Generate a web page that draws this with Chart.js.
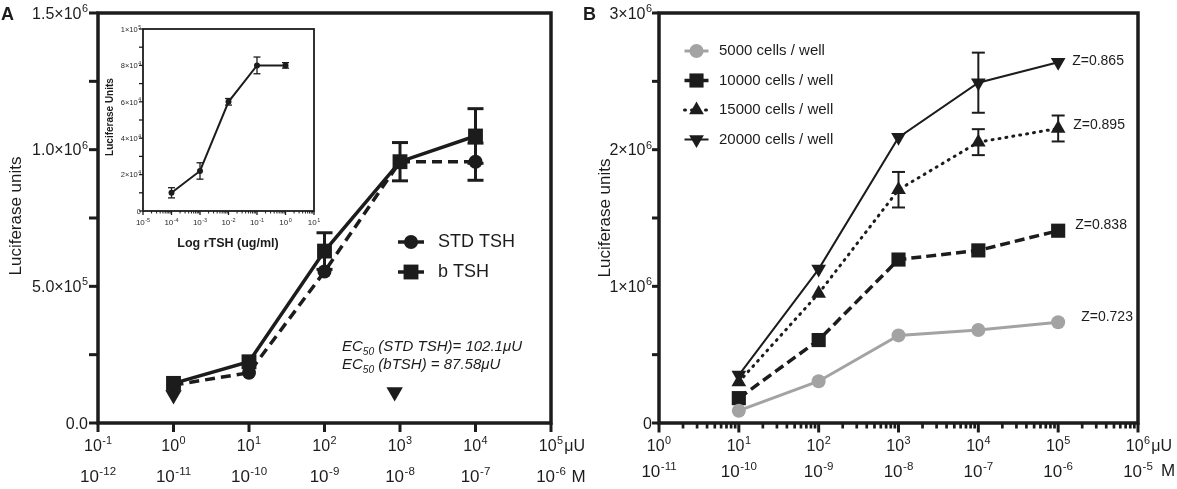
<!DOCTYPE html>
<html>
<head>
<meta charset="utf-8">
<script src="https://cdn.jsdelivr.net/npm/chart.js@4.4.1/dist/chart.umd.min.js"></script>
<style>
  html, body { margin: 0; padding: 0; background: #fff; }
  #wrap { position: relative; width: 1177px; height: 489px; overflow: hidden; }
  canvas { position: absolute; }
</style>
</head>
<body>
<div id="wrap">
  <canvas id="chartA" width="590" height="489" style="left:0;top:0;width:590px;height:489px"></canvas>
  <canvas id="chartB" width="597" height="489" style="left:580px;top:0;width:597px;height:489px"></canvas>
  <canvas id="inset" width="230" height="245" style="left:95px;top:20px;width:230px;height:245px"></canvas>
</div>
<script>
// --- panel A : STD TSH vs b TSH ---
const doseA = [1, 10, 100, 1000, 10000];              // µU
const stdTsh = [139000, 184000, 554000, 956000, 956000];
const stdTshErr = [0, 0, 0, 0, 68000];
const bTsh = [145000, 224000, 629000, 956000, 1050000];
const bTshErr = [0, 0, 67000, 70000, 100000];
const ec50Dose = [1, 850];
const ec50Mark = [102000, 113000];
const ec50Notes = [['EC', '50', ' (STD TSH)= 102.1μU'], ['EC', '50', ' (bTSH) = 87.58μU']];
const xTicksA = ['10^-1', '10^0', '10^1', '10^2', '10^3', '10^4', '10^5'];
const molarA = ['10^-12', '10^-11', '10^-10', '10^-9', '10^-8', '10^-7', '10^-6'];
const yValsA = [0, 500000, 1000000, 1500000];
const yTicksA = ['0.0', '5.0×10^5', '1.0×10^6', '1.5×10^6'];

// --- inset : rTSH ---
const rtshDose = [0.0001, 0.001, 0.01, 0.1, 1];      // ug/ml
const rtshLuc = [10000, 22000, 60000, 80000, 80000];
const rtshErr = [2800, 4500, 1800, 4600, 1500];
const xTicksIn = ['10^-5', '10^-4', '10^-3', '10^-2', '10^-1', '10^0', '10^1'];
const yValsIn = [0, 20000, 40000, 60000, 80000, 100000];
const yTicksIn = ['0', '2×10^4', '4×10^4', '6×10^4', '8×10^4', '1×10^5'];

// --- panel B : cells per well ---
const doseB = [10, 100, 1000, 10000, 100000];
const cellLabels = ['5000 cells / well', '10000 cells / well', '15000 cells / well', '20000 cells / well'];
const cells5000 = [90000, 306000, 641000, 681000, 737000];
const cells10000 = [182000, 607000, 1196000, 1263000, 1407000];
const cells15000 = [300000, 948000, 1707000, 2055000, 2155000];
const err15000 = [0, 0, 130000, 95000, 95000];
const cells20000 = [351000, 1126000, 2090000, 2490000, 2640000];
const err20000 = [0, 0, 0, 220000, 0];
const zFactors = ['Z=0.723', 'Z=0.838', 'Z=0.895', 'Z=0.865'];
const xTicksB = ['10^0', '10^1', '10^2', '10^3', '10^4', '10^5', '10^6'];
const molarB = ['10^-11', '10^-10', '10^-9', '10^-8', '10^-7', '10^-6', '10^-5'];
const yValsB = [0, 1000000, 2000000, 3000000];
const yTicksB = ['0', '1×10^6', '2×10^6', '3×10^6'];

const FONT = '"Liberation Sans", Arial, sans-serif';
const INK = '#1c1c1c';
const GREY = '#a3a3a3';

function pts(xs, ys) { return xs.map((x, i) => ({ x: x, y: ys[i] })); }
function expOf(s) { return Number(s.split('^')[1]); }

function series(label, xs, ys, errs, style) {
  return Object.assign({ label: label, data: pts(xs, ys), errors: errs, showLine: true, clip: false,
    pointBorderWidth: 0, pointHoverRadius: 0, tension: 0 }, style);
}

function baseOptions(xMin, xMax, yMax, padding) {
  return {
    responsive: false, animation: false, devicePixelRatio: 1, events: [],
    layout: { padding: padding },
    plugins: { legend: { display: false }, tooltip: { enabled: false } },
    scales: {
      x: { type: 'logarithmic', min: xMin, max: xMax, display: false },
      y: { type: 'linear', min: 0, max: yMax, display: false }
    }
  };
}

// text with a superscript part written as "base^exp"
function drawPow(ctx, label, x, y, size, align, opt) {
  opt = opt || {};
  const p = label.split('^'), base = p[0], exp = p[1] || '';
  const w8 = opt.weight || 'normal';
  const esz = size * 0.68;
  ctx.font = w8 + ' ' + size + 'px ' + FONT;
  const wb = ctx.measureText(base).width;
  ctx.font = w8 + ' ' + esz + 'px ' + FONT;
  const we = exp ? ctx.measureText(exp).width + 0.5 : 0;
  const w = wb + we;
  const x0 = align === 'center' ? x - w / 2 : align === 'right' ? x - w : x;
  const by = y + size * 0.36;
  ctx.textAlign = 'left';
  ctx.textBaseline = 'alphabetic';
  ctx.font = w8 + ' ' + size + 'px ' + FONT;
  ctx.fillText(base, x0, by);
  if (exp) {
    ctx.font = w8 + ' ' + esz + 'px ' + FONT;
    ctx.fillText(exp, x0 + wb + 0.5, by - size * 0.42);
  }
  if (opt.suffix) {
    ctx.font = w8 + ' ' + size + 'px ' + FONT;
    ctx.fillText(opt.suffix, x0 + w + 1, by);
  }
}

function vText(ctx, text, x, y, font) {
  ctx.save();
  ctx.translate(x, y);
  ctx.rotate(-Math.PI / 2);
  ctx.font = font;
  ctx.textAlign = 'center';
  ctx.textBaseline = 'middle';
  ctx.fillText(text, 0, 0);
  ctx.restore();
}

function seg(ctx, x1, y1, x2, y2) {
  ctx.beginPath(); ctx.moveTo(x1, y1); ctx.lineTo(x2, y2); ctx.stroke();
}

// frame, tick marks and tick labels
function drawAxes(chart, a) {
  const ctx = chart.ctx, area = chart.chartArea, xs = chart.scales.x, ys = chart.scales.y;
  ctx.save();
  ctx.strokeStyle = INK;
  ctx.fillStyle = a.textColor || INK;
  ctx.lineCap = 'butt';
  ctx.lineWidth = a.frameW;
  ctx.strokeRect(area.left, area.top, area.right - area.left, area.bottom - area.top);

  ctx.lineWidth = a.tickW;
  const lastExp = expOf(a.xLabels[a.xLabels.length - 1]);
  a.xLabels.forEach(lbl => {
    const e = expOf(lbl);
    const px = xs.getPixelForValue(Math.pow(10, e));
    seg(ctx, px, area.bottom, px, area.bottom + a.xLen);
    if (a.xMinorLen && e < lastExp) {
      ctx.lineWidth = a.minorW || a.tickW;
      for (let k = 2; k <= 9; k++) {
        const mx = xs.getPixelForValue(k * Math.pow(10, e));
        seg(ctx, mx, area.bottom, mx, area.bottom + a.xMinorLen);
      }
      ctx.lineWidth = a.tickW;
    }
  });
  for (let v = 0; v <= ys.max + 1; v += a.yStep) {
    const py = ys.getPixelForValue(v);
    seg(ctx, area.left - a.yLen, py, area.left, py);
  }

  a.xLabels.forEach((lbl, i) => {
    const px = xs.getPixelForValue(Math.pow(10, expOf(lbl)));
    const last = i === a.xLabels.length - 1;
    drawPow(ctx, lbl, px, a.row1Y, a.row1Size, 'center', { suffix: last ? a.row1Suffix : '' });
    if (a.row2) drawPow(ctx, a.row2[i], px, a.row2Y, a.row2Size, 'center', { suffix: last ? a.row2Suffix : '' });
  });
  a.yVals.forEach((v, i) => {
    drawPow(ctx, a.yLabels[i], a.yLabelX, ys.getPixelForValue(v), a.ySize, 'right');
  });
  ctx.restore();
}

const errorBars = {
  id: 'errorBars',
  beforeDatasetsDraw(chart) {
    const ctx = chart.ctx, ys = chart.scales.y;
    chart.data.datasets.forEach((ds, di) => {
      if (!ds.errors) return;
      const meta = chart.getDatasetMeta(di);
      ctx.save();
      ctx.strokeStyle = ds.borderColor;
      ctx.lineWidth = ds.errWidth || 2;
      ctx.setLineDash([]);
      meta.data.forEach((pt, i) => {
        const e = ds.errors[i];
        if (!e) return;
        const v = ds.data[i].y;
        const top = ys.getPixelForValue(v + e), bot = ys.getPixelForValue(v - e), w = ds.capHalf || 6;
        seg(ctx, pt.x, top, pt.x, bot);
        seg(ctx, pt.x - w, top, pt.x + w, top);
        seg(ctx, pt.x - w, bot, pt.x + w, bot);
      });
      ctx.restore();
    });
  }
};

function legendEntry(ctx, ds, x, y, half, textX, text, size) {
  ctx.save();
  ctx.strokeStyle = ds.borderColor;
  ctx.lineWidth = ds.borderWidth;
  ctx.setLineDash(ds.legendDash || []);
  ctx.lineCap = ds.borderCapStyle || 'butt';
  seg(ctx, x - half, y, x + half, y);
  ctx.setLineDash([]);
  ctx.fillStyle = ds.pointBackgroundColor;
  Chart.helpers.drawPoint(ctx, { pointStyle: ds.pointStyle, radius: ds.pointRadius,
    rotation: ds.pointRotation || 0, borderWidth: 0 }, x, y);
  ctx.fillStyle = INK;
  ctx.font = size + 'px ' + FONT;
  ctx.textAlign = 'left';
  ctx.textBaseline = 'middle';
  ctx.fillText(text, textX, y);
  ctx.restore();
}

// ---------- Panel A ----------
const decoA = {
  id: 'decoA',
  afterDraw(chart) {
    const ctx = chart.ctx;
    drawAxes(chart, {
      xLabels: xTicksA, xLen: 9, tickW: 3, frameW: 3.5,
      row1Y: 445, row1Size: 16, row1Suffix: 'μU',
      row2: molarA, row2Y: 476, row2Size: 17, row2Suffix: ' M',
      yVals: yValsA, yLabels: yTicksA, yStep: 250000, yLen: 9, yLabelX: 88, ySize: 16
    });
    ctx.save();
    ctx.fillStyle = INK;
    ctx.font = 'bold 18px ' + FONT;
    ctx.textAlign = 'left';
    ctx.textBaseline = 'middle';
    ctx.fillText('A', 1, 15);
    vText(ctx, 'Luciferase units', 16, 216, '17px ' + FONT);
    const ds = chart.data.datasets;
    legendEntry(ctx, ds[0], 411, 242, 13, 438, ds[0].label, 18);
    legendEntry(ctx, ds[1], 411, 272, 13, 438, ds[1].label, 18);
    // EC50 notes
    ec50Notes.forEach((n, i) => {
      const y = 351 + i * 18, sz = 15;
      let x = 342;
      ctx.textBaseline = 'alphabetic';
      ctx.font = 'italic ' + sz + 'px ' + FONT;
      ctx.fillText(n[0], x, y);
      x += ctx.measureText(n[0]).width;
      ctx.font = 'italic ' + (sz * 0.68) + 'px ' + FONT;
      ctx.fillText(n[1], x, y + 4);
      x += ctx.measureText(n[1]).width;
      ctx.font = 'italic ' + sz + 'px ' + FONT;
      ctx.fillText(n[2], x, y);
    });
    ctx.restore();
  }
};

new Chart(document.getElementById('chartA'), {
  type: 'scatter',
  data: {
    datasets: [
      series('STD TSH', doseA, stdTsh, stdTshErr, {
        order: 1, borderColor: INK, borderWidth: 3.5, borderDash: [10, 6],
        pointStyle: 'circle', pointRadius: 7, pointBackgroundColor: INK,
        errWidth: 3, capHalf: 8
      }),
      series('b TSH', doseA, bTsh, bTshErr, {
        order: 0, borderColor: INK, borderWidth: 3.5,
        pointStyle: 'rect', pointRadius: 10.5, pointBackgroundColor: INK,
        errWidth: 3, capHalf: 8
      }),
      {
        label: 'EC50', data: pts(ec50Dose, ec50Mark), showLine: false, clip: false, order: 2,
        pointStyle: 'triangle', pointRotation: 180, pointRadius: 9.5,
        pointBackgroundColor: INK, pointBorderWidth: 0, pointHoverRadius: 0
      }
    ]
  },
  options: baseOptions(0.1, 100000, 1500000, { left: 98, top: 13, right: 39, bottom: 66 }),
  plugins: [errorBars, decoA]
});

// ---------- Inset ----------
const decoIn = {
  id: 'decoIn',
  afterDraw(chart) {
    const ctx = chart.ctx;
    drawAxes(chart, {
      xLabels: xTicksIn, xLen: 4, xMinorLen: 2.5, tickW: 1.3, minorW: 1, frameW: 1.8,
      textColor: '#2a2a2a',
      row1Y: 202, row1Size: 8,
      yVals: yValsIn, yLabels: yTicksIn, yStep: 10000, yLen: 4, yLabelX: 46, ySize: 7.5
    });
    ctx.save();
    ctx.fillStyle = INK;
    ctx.font = 'bold 12.5px ' + FONT;
    ctx.textAlign = 'center';
    ctx.textBaseline = 'middle';
    ctx.fillText('Log rTSH (ug/ml)', 133, 224);
    vText(ctx, 'Luciferase Units', 15, 97, 'bold 10px ' + FONT);
    ctx.restore();
  }
};

new Chart(document.getElementById('inset'), {
  type: 'scatter',
  data: {
    datasets: [
      series('rTSH', rtshDose, rtshLuc, rtshErr, {
        borderColor: INK, borderWidth: 2,
        pointStyle: 'circle', pointRadius: 3, pointBackgroundColor: INK,
        errWidth: 1.3, capHalf: 3.5
      })
    ]
  },
  options: baseOptions(0.00001, 10, 100000, { left: 48, top: 9, right: 11, bottom: 54 }),
  plugins: [errorBars, decoIn]
});

// ---------- Panel B ----------
const decoB = {
  id: 'decoB',
  afterDatasetsDraw(chart) {
    const ctx = chart.ctx;
    ctx.save();
    ctx.fillStyle = INK;
    ctx.font = '14px ' + FONT;
    ctx.textAlign = 'left';
    ctx.textBaseline = 'middle';
    chart.data.datasets.forEach((ds, di) => {
      const meta = chart.getDatasetMeta(di);
      const last = meta.data[meta.data.length - 1];
      ctx.fillText(zFactors[di], last.x + ds.zDx, last.y + ds.zDy);
    });
    ctx.restore();
  },
  afterDraw(chart) {
    const ctx = chart.ctx;
    drawAxes(chart, {
      xLabels: xTicksB, xLen: 9.5, xMinorLen: 5.5, tickW: 3, minorW: 2.7, frameW: 3.5,
      row1Y: 445, row1Size: 16, row1Suffix: 'μU',
      row2: molarB, row2Y: 471, row2Size: 17,
      yVals: yValsB, yLabels: yTicksB, yStep: 500000, yLen: 7, yLabelX: 72, ySize: 16
    });
    ctx.save();
    ctx.fillStyle = INK;
    ctx.font = 'bold 18px ' + FONT;
    ctx.textAlign = 'left';
    ctx.textBaseline = 'middle';
    ctx.fillText('B', 3, 15);
    ctx.font = '17px ' + FONT;
    ctx.textAlign = 'center';
    ctx.fillText('M', 588, 471);
    vText(ctx, 'Luciferase units', 25, 218, '17px ' + FONT);
    chart.data.datasets.forEach((ds, di) => {
      legendEntry(ctx, ds, 116.5, 51 + di * 29.5, 12, 139, ds.label, 15);
    });
    ctx.restore();
  }
};

new Chart(document.getElementById('chartB'), {
  type: 'scatter',
  data: {
    datasets: [
      series(cellLabels[0], doseB, cells5000, null, {
        borderColor: GREY, borderWidth: 3,
        pointStyle: 'circle', pointRadius: 7, pointBackgroundColor: GREY,
        zDx: 23, zDy: -5
      }),
      series(cellLabels[1], doseB, cells10000, null, {
        borderColor: INK, borderWidth: 3.5, borderDash: [10, 5],
        pointStyle: 'rect', pointRadius: 10, pointBackgroundColor: INK,
        zDx: 17, zDy: -6
      }),
      series(cellLabels[2], doseB, cells15000, err15000, {
        borderColor: INK, borderWidth: 3, borderDash: [1, 6], borderCapStyle: 'round',
        legendDash: [1, 6],
        pointStyle: 'triangle', pointRadius: 8.5, pointBackgroundColor: INK,
        errWidth: 2, capHalf: 6.5, zDx: 15, zDy: -3
      }),
      series(cellLabels[3], doseB, cells20000, err20000, {
        borderColor: INK, borderWidth: 2,
        pointStyle: 'triangle', pointRotation: 180, pointRadius: 8.5, pointBackgroundColor: INK,
        errWidth: 2, capHalf: 6.5, zDx: 14, zDy: -1
      })
    ]
  },
  options: baseOptions(1, 1000000, 3000000, { left: 79, top: 13, right: 39, bottom: 66 }),
  plugins: [errorBars, decoB]
});
</script>
</body>
</html>
